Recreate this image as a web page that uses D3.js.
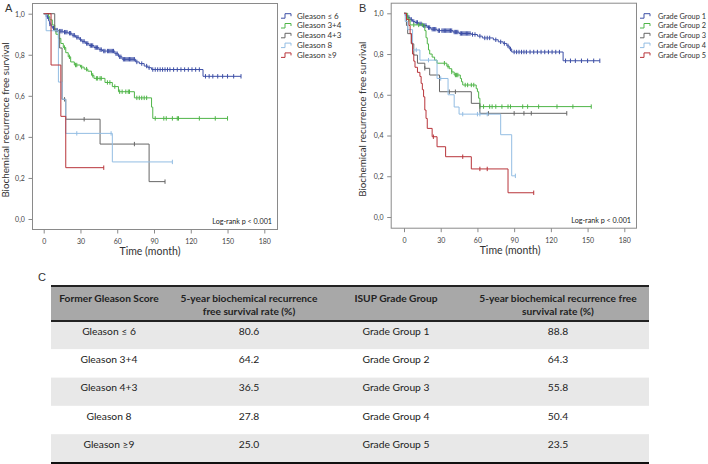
<!DOCTYPE html>
<html><head><meta charset="utf-8">
<script src="https://cdn.jsdelivr.net/npm/d3@7"></script>
<style>
body{margin:0;background:#fff;}
svg{display:block;font-family:Lato,"Open Sans",sans-serif;}
</style></head>
<body><svg id="c" width="708" height="464"></svg>
<script>
// ---------- DATA: panel A (former Gleason score) ----------
const namesA = ["Gleason \u2264 6", "Gleason 3+4", "Gleason 4+3", "Gleason 8", "Gleason \u22659"];
const gle6_t = [0,2,4,5,6,7,9,12,16,20,23,26,29,31,34,37,41,45,48,58,61,64,75,78,82,85,88,130];
const gle6_s = [1,0.985,0.965,0.95,0.94,0.93,0.92,0.915,0.91,0.905,0.895,0.885,0.875,0.865,0.855,0.845,0.835,0.825,0.818,0.805,0.79,0.778,0.765,0.757,0.745,0.737,0.728,0.695];
const gle6_end = 161;
const gle6_c = [3,5,8,10,11,13,14,15,17,18,19,21,22,24,25,27,28,30,32,33,35,36,38,39,40,42,43,44,46,47,49,50,52,53,54,55,56,57,59,60,62,63,65,66,67,68,69,70,71,72,73,74,76,80,84,86,89,91,93,95,97,99,101,103,106,109,112,115,118,121,124,127,132,135,138,142,146,150,155,161];
const gle34_t = [0,4,5,7,9,10,12,14,16,18,20,22,25,30,33,36,39,41,50,56,61,74,88,89];
const gle34_s = [1,0.985,0.97,0.945,0.92,0.9,0.88,0.855,0.835,0.81,0.79,0.765,0.75,0.74,0.73,0.72,0.7,0.685,0.665,0.645,0.62,0.59,0.545,0.49];
const gle34_end = 150;
const gle34_c = [17,21,26,27,31,35,40,43,44,46,47,52,54,58,62,64,67,69,70,76,78,80,82,84,91,98,100,105,109,110,127,140,150];
const gle43_t = [0,9,13,15,18,46,86];
const gle43_s = [1,0.917,0.833,0.583,0.486,0.365,0.182];
const gle43_end = 99;
const gle43_c = [17,33,74,99];
const gle8_t = [0,2,12,15,18,56];
const gle8_s = [1,0.917,0.667,0.583,0.417,0.278];
const gle8_end = 105;
const gle8_c = [27,55,105];
const gle9_t = [0,6,14,18];
const gle9_s = [1,0.75,0.5,0.25];
const gle9_end = 49;
const gle9_c = [49];

// ---------- DATA: panel B (ISUP grade group) ----------
const namesB = ["Grade Group 1", "Grade Group 2", "Grade Group 3", "Grade Group 4", "Grade Group 5"];
const gg1_t = [0,1,3,5,7,9,12,15,19,22,27,40,45,55,60,64,73,77,81,84,86,88,130];
const gg1_s = [1,0.99,0.98,0.97,0.96,0.955,0.948,0.94,0.93,0.922,0.915,0.908,0.901,0.896,0.888,0.879,0.87,0.86,0.852,0.84,0.825,0.81,0.767];
const gg1_end = 160;
const gg1_c = [2,4,6,8,10,11,13,14,16,17,18,20,21,23,24,25,26,28,29,31,32,33,34,35,36,37,38,39,41,42,43,44,46,47,48,49,50,51,52,53,54,56,58,62,66,68,70,75,79,82,85,87,90,92,94,96,98,100,103,106,109,112,115,118,121,124,127,132,136,140,145,150,155,160];
const gg2_t = [0,3,5,17,18,19,20,21,23,25,27,35,37,39,41,46,47,48,59,60,61,62];
const gg2_s = [1,0.97,0.943,0.915,0.88,0.85,0.82,0.8,0.785,0.77,0.755,0.74,0.728,0.712,0.697,0.68,0.664,0.648,0.63,0.615,0.583,0.542];
const gg2_end = 153;
const gg2_c = [4,8,12,15,33,36,39,42,43,44,50,52,55,57,62,65,70,72,75,80,85,87,97,101,110,125,138,153];
const gg3_t = [0,2,3,6,8,11,17,21,29,55,62];
const gg3_s = [1,0.94,0.9,0.85,0.795,0.755,0.73,0.697,0.615,0.558,0.509];
const gg3_end = 133;
const gg3_c = [17,37,42,69,90,98,104,133];
const gg4_t = [0,1,3,7,13,27,36,41,45,79,88];
const gg4_s = [1,0.96,0.92,0.82,0.77,0.68,0.6,0.54,0.505,0.404,0.202];
const gg4_end = 91;
const gg4_c = [10,20,30,48,60,62,68,91];
const gg5_t = [0,2,4,5,6,7,8,9,11,13,14,15,16,17,18,19,23,27,34,55,85];
const gg5_s = [1,0.97,0.94,0.9,0.853,0.8,0.765,0.735,0.71,0.69,0.656,0.625,0.59,0.525,0.484,0.435,0.394,0.345,0.296,0.236,0.119];
const gg5_end = 106;
const gg5_c = [24,48,62,68,106];

const xTicks = [0,30,60,90,120,150,180];
const yTicks = [0,0.2,0.4,0.6,0.8,1.0];

// ---------- DATA: table C ----------
const tableHeaders = [["Former Gleason Score"], ["5-year biochemical recurrence", "free survival rate (%)"], ["ISUP Grade Group"], ["5-year biochemical recurrence free", "survival rate (%)"]];
const formerGleason = ["Gleason \u2264 6", "Gleason 3+4", "Gleason 4+3", "Gleason 8", "Gleason \u22659"];
const gleasonRate = ["80.6", "64.2", "36.5", "27.8", "25.0"];
const isupGroups = ["Grade Group 1", "Grade Group 2", "Grade Group 3", "Grade Group 4", "Grade Group 5"];
const isupRate = ["88.8", "64.3", "55.8", "50.4", "23.5"];

const colors = ["#3d4fa6", "#4fb548", "#666666", "#93bde3", "#b8343a"];

// ---------- DRAW ----------
const svg = d3.select("#c");

function survAt(ts, ss, t){ let v = ss[0]; for(let i=0;i<ts.length;i++){ if(ts[i] <= t) v = ss[i]; } return v; }

function panel(cfg){
  const g = svg.append("g");
  const x = d3.scaleLinear().domain([0,180]).range(cfg.xr);
  const y = d3.scaleLinear().domain([0,1]).range(cfg.yr);
  g.append("rect").attr("x", cfg.frame[0]+0.5).attr("y", cfg.frame[1]+0.5)
    .attr("width", cfg.frame[2]-cfg.frame[0]).attr("height", cfg.frame[3]-cfg.frame[1])
    .attr("fill","none").attr("stroke","#8a8a8a").attr("stroke-width",1);
  const ax = g.append("g").attr("transform", `translate(0,${cfg.frame[3]+0.5})`)
    .call(d3.axisBottom(x).tickValues(xTicks).tickSize(4).tickSizeOuter(0));
  const ay = g.append("g").attr("transform", `translate(${cfg.frame[0]+0.5},0)`)
    .call(d3.axisLeft(y).tickValues(yTicks).tickSize(4).tickSizeOuter(0).tickFormat(d => d.toFixed(1).replace(".", ",")));
  [ax, ay].forEach(a => {
    a.select(".domain").remove();
    a.selectAll(".tick line").attr("stroke","#8a8a8a");
    a.selectAll(".tick text").attr("fill","#444").attr("font-size","7px").attr("font-family","Lato, sans-serif");
  });
  ax.selectAll(".tick text").attr("dy","1.05em");
  ay.selectAll(".tick text").attr("dx","-0.1em").attr("dy","0.35em");
  const line = d3.line().x(d => x(d[0])).y(d => y(d[1])).curve(d3.curveStepAfter);
  cfg.series.forEach((s, i) => {
    const pts = s.t.map((t, k) => [t, s.s[k]]);
    pts.push([s.end, s.s[s.s.length-1]]);
    g.append("path").attr("d", line(pts)).attr("fill","none").attr("stroke", colors[i]).attr("stroke-width", 1);
    g.append("g").selectAll("line").data(s.c).join("line")
      .attr("x1", d => x(d)).attr("x2", d => x(d))
      .attr("y1", d => y(survAt(s.t, s.s, d)) - 2.2).attr("y2", d => y(survAt(s.t, s.s, d)) + 2.2)
      .attr("stroke", colors[i]).attr("stroke-width", 1);
  });
  g.append("text").attr("x", cfg.frame[2]-5).attr("y", cfg.frame[3]-5).attr("text-anchor","end")
    .attr("font-size","7.2px").attr("fill","#222").text("Log-rank p < 0.001");
  g.append("text").attr("x", (cfg.xr[0]+cfg.xr[1])/2 - 4).attr("y", cfg.frame[3]+26).attr("text-anchor","middle")
    .attr("font-size","10.5px").attr("fill","#333").text("Time (month)");
  g.append("text").attr("transform", `translate(${cfg.ylabX},${(cfg.frame[1]+cfg.frame[3])/2+4}) rotate(-90)`)
    .attr("text-anchor","middle").attr("font-size","9.8px").attr("fill","#333").text("Biochemical recurrence free survival");
  g.append("text").attr("x", cfg.letter[0]).attr("y", cfg.letter[1]).attr("font-size","11px")
    .attr("font-family","Liberation Sans, Arial, sans-serif").attr("fill","#333").text(cfg.letterText);
  const lg = g.append("g").attr("transform", `translate(${cfg.legend[0]},${cfg.legend[1]})`);
  cfg.names.forEach((n, i) => {
    const row = lg.append("g").attr("transform", `translate(0,${i*9.8})`);
    row.append("path").attr("d","M0,2.5 H4 V-2 H10 V0.5").attr("fill","none").attr("stroke", colors[i]).attr("stroke-width",1);
    const t = row.append("text").attr("x", cfg.legendTextDx).attr("y", 2.8).attr("font-size", cfg.legendFont).attr("fill","#333").text(n);
    if (cfg.legendWidth) t.attr("textLength", cfg.legendWidth).attr("lengthAdjust","spacingAndGlyphs");
  });
}

panel({
  xr:[43.7,264.3], yr:[219,13.7], frame:[32,3,277,229], ylabX:9, letter:[5,12], letterText:"A",
  legend:[281,15.7], legendTextDx:16, names:namesA, legendFont:"8px",
  series:[
    {t:gle6_t, s:gle6_s, end:gle6_end, c:gle6_c},
    {t:gle34_t, s:gle34_s, end:gle34_end, c:gle34_c},
    {t:gle43_t, s:gle43_s, end:gle43_end, c:gle43_c},
    {t:gle8_t, s:gle8_s, end:gle8_end, c:gle8_c},
    {t:gle9_t, s:gle9_s, end:gle9_end, c:gle9_c}
  ]
});
panel({
  xr:[404,624.3], yr:[217,13.3], frame:[390.7,2.7,636,227.7], ylabX:366, letter:[359,12], letterText:"B",
  legend:[640,15.7], legendTextDx:18, names:namesB, legendFont:"7.8px", legendWidth:48,
  series:[
    {t:gg1_t, s:gg1_s, end:gg1_end, c:gg1_c},
    {t:gg2_t, s:gg2_s, end:gg2_end, c:gg2_c},
    {t:gg3_t, s:gg3_s, end:gg3_end, c:gg3_c},
    {t:gg4_t, s:gg4_s, end:gg4_end, c:gg4_c},
    {t:gg5_t, s:gg5_s, end:gg5_end, c:gg5_c}
  ]
});

// ---------- TABLE C ----------
const T = svg.append("g");
const tx0 = 51, tx1 = 649, tTop = 286, tHeadBot = 321, rowH = 28.3;
const colCenters = [109, 249, 396, 558];
T.append("text").attr("x", 38).attr("y", 281).attr("font-size","11px")
  .attr("font-family","Liberation Sans, Arial, sans-serif").attr("fill","#333").text("C");
T.append("rect").attr("x", tx0).attr("y", tTop).attr("width", tx1-tx0).attr("height", tHeadBot-tTop).attr("fill","#a8a8a8");
const rows = formerGleason.map((g, i) => [g, gleasonRate[i], isupGroups[i], isupRate[i]]);
rows.forEach((r, i) => {
  const ry = tHeadBot + i*rowH;
  T.append("rect").attr("x", tx0).attr("y", ry).attr("width", tx1-tx0).attr("height", rowH)
    .attr("fill", i % 2 === 0 ? "#e8e8e8" : "#ffffff");
  r.forEach((v, j) => {
    T.append("text").attr("x", colCenters[j]).attr("y", ry + 13.8).attr("text-anchor","middle")
      .attr("font-size","10.3px").attr("fill","#222").text(v);
  });
});
tableHeaders.forEach((h, j) => {
  h.forEach((ln, k) => {
    T.append("text").attr("x", colCenters[j]).attr("y", 301.8 + k*13.5).attr("text-anchor","middle")
      .attr("font-size","10.2px").attr("font-weight","bold").attr("fill","#222").text(ln);
  });
});
T.append("line").attr("x1",tx0).attr("x2",tx1).attr("y1",tTop).attr("y2",tTop).attr("stroke","#222").attr("stroke-width",2);
T.append("line").attr("x1",tx0).attr("x2",tx1).attr("y1",tHeadBot).attr("y2",tHeadBot).attr("stroke","#222").attr("stroke-width",2);
T.append("line").attr("x1",tx0).attr("x2",tx1).attr("y1",tHeadBot+5*rowH+1).attr("y2",tHeadBot+5*rowH+1).attr("stroke","#111").attr("stroke-width",3);
</script>
</body></html>
